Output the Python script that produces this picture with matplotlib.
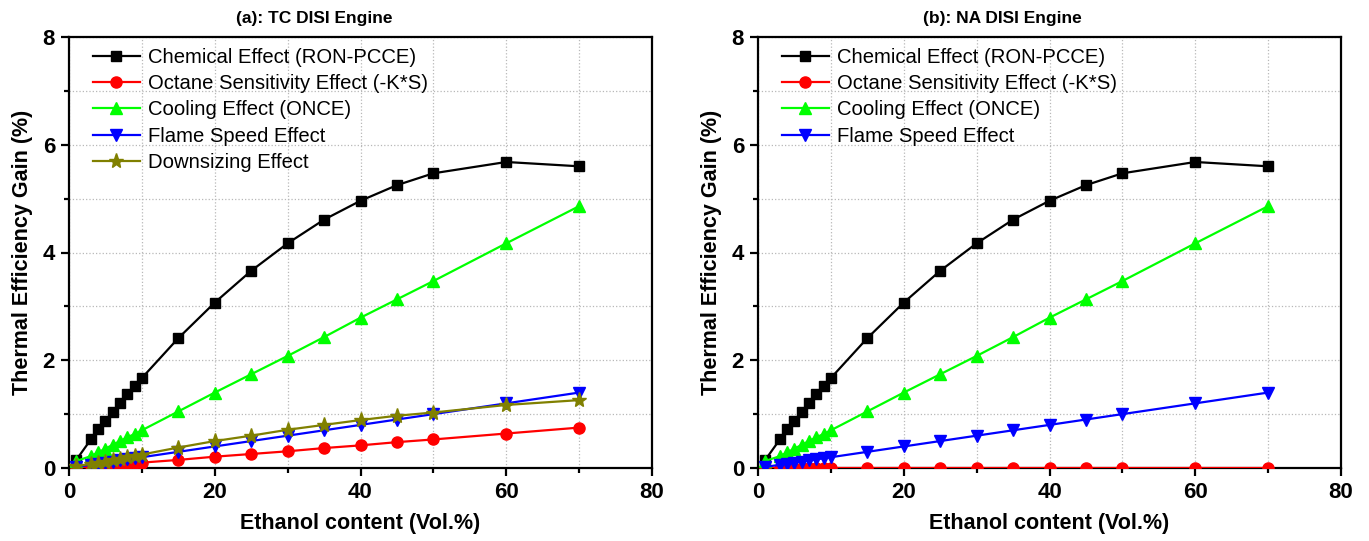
import matplotlib
matplotlib.use('Agg')
import matplotlib.pyplot as plt
from matplotlib.ticker import MultipleLocator

plt.rcParams.update({
    'font.family': ['Liberation Sans', 'DejaVu Sans'],
    'font.size': 12,
    'axes.linewidth': 1.6,
})

# Ethanol content (Vol.%)
ethanol = [1, 3, 4, 5, 6, 7, 8, 9, 10, 15, 20, 25, 30, 35, 40, 45, 50, 60, 70]

chemical = [0.15, 0.53, 0.72, 0.88, 1.04, 1.20, 1.37, 1.52, 1.67, 2.41, 3.07,
            3.66, 4.17, 4.61, 4.96, 5.25, 5.47, 5.68, 5.60]
sensitivity_tc = [0.01, 0.03, 0.04, 0.05, 0.06, 0.07, 0.08, 0.09, 0.10, 0.15, 0.21,
                  0.26, 0.31, 0.37, 0.42, 0.48, 0.53, 0.64, 0.75]
sensitivity_na = [0.0] * len(ethanol)
cooling = [0.13, 0.22, 0.29, 0.36, 0.43, 0.50, 0.57, 0.63, 0.70, 1.05, 1.40,
           1.74, 2.08, 2.43, 2.79, 3.13, 3.47, 4.17, 4.86]
flame = [0.02, 0.06, 0.08, 0.10, 0.12, 0.14, 0.16, 0.18, 0.20, 0.30, 0.40,
         0.50, 0.60, 0.70, 0.80, 0.90, 1.00, 1.20, 1.40]
downsizing = [0.03, 0.08, 0.10, 0.12, 0.15, 0.17, 0.20, 0.22, 0.25, 0.38, 0.50,
              0.60, 0.71, 0.80, 0.89, 0.97, 1.03, 1.17, 1.26]

labels = ['Chemical Effect (RON-PCCE)', 'Octane Sensitivity Effect (-K*S)',
          'Cooling Effect (ONCE)', 'Flame Speed Effect', 'Downsizing Effect']
colors = ['black', '#ff0000', '#00ff00', '#0000ff', '#808000']
markers = ['s', 'o', '^', 'v', '*']
msizes = [7.5, 8, 8, 8, 11]

panels = [
    ('(a): TC DISI Engine', [chemical, sensitivity_tc, cooling, flame, downsizing]),
    ('(b): NA DISI Engine', [chemical, sensitivity_na, cooling, flame]),
]

fig = plt.figure(figsize=(13.69, 5.41), dpi=100)
lefts = [69 / 1369, 758 / 1369]

for left, (title, series) in zip(lefts, panels):
    ax = fig.add_axes([left, 73 / 541, 583 / 1369, 431 / 541])
    for i, ys in enumerate(series):
        ax.plot(ethanol, ys, color=colors[i], marker=markers[i], ms=msizes[i],
                lw=1.6, label=labels[i], mec=colors[i], zorder=3 + i * 0.01)
    ax.set_xlim(0, 80)
    ax.set_ylim(0, 8)
    ax.xaxis.set_major_locator(MultipleLocator(20))
    ax.xaxis.set_minor_locator(MultipleLocator(10))
    ax.yaxis.set_major_locator(MultipleLocator(2))
    ax.yaxis.set_minor_locator(MultipleLocator(1))
    ax.grid(which='both', color='#b8b8b8', linestyle=':', linewidth=0.9)
    ax.set_axisbelow(True)
    ax.tick_params(which='major', direction='out', length=6, width=1.6,
                   labelsize=16, pad=4)
    ax.tick_params(which='minor', direction='out', length=3.5, width=1.6)
    for lab in ax.get_xticklabels() + ax.get_yticklabels():
        lab.set_fontweight('bold')
    ax.set_xlabel('Ethanol content (Vol.%)', fontsize=15.5, fontweight='bold', labelpad=7)
    ax.set_ylabel('Thermal Efficiency Gain (%)', fontsize=15.5, fontweight='bold', labelpad=7)
    ax.text(0.42, 1.043, title, transform=ax.transAxes, ha='center', va='center',
            fontsize=12.5, fontweight='bold')
    ax.legend(loc='upper left', frameon=False, fontsize=14.6, numpoints=1,
              handlelength=2.3, handletextpad=0.4, labelspacing=0.36,
              borderaxespad=0, borderpad=0, bbox_to_anchor=(0.041, 0.975))

fig.savefig('out.png', dpi=100)
